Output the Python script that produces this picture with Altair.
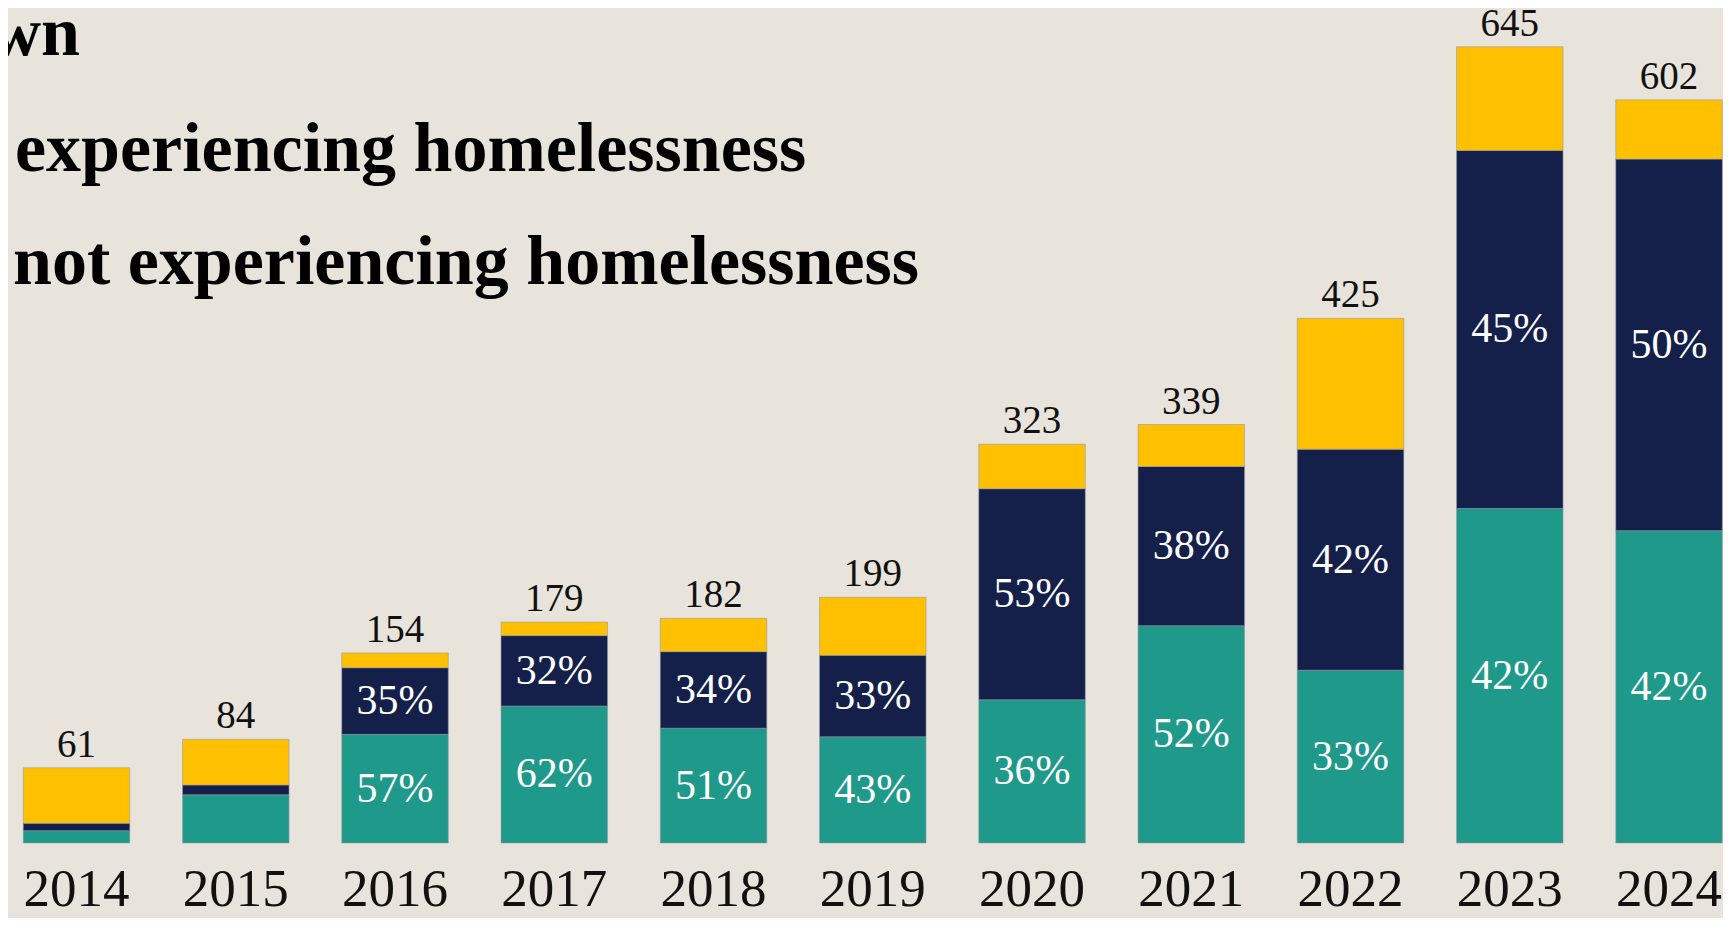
import altair as alt
import pandas as pd

# ---- data ----
years = ["2014", "2015", "2016", "2017", "2018", "2019", "2020", "2021", "2022", "2023", "2024"]
totals = [61, 84, 154, 179, 182, 199, 323, 339, 425, 645, 602]
not_experiencing = [10, 39, 88, 111, 93, 86, 116, 176, 140, 271, 253]
experiencing = [6, 8, 54, 57, 62, 66, 171, 129, 179, 290, 301]
not_exp_pct = [None, None, "57%", "62%", "51%", "43%", "36%", "52%", "33%", "42%", "42%"]
exp_pct = [None, None, "35%", "32%", "34%", "33%", "53%", "38%", "42%", "45%", "50%"]

categories = ["not experiencing homelessness", "experiencing homelessness", "Unknown"]
colors = ["#1F998A", "#14204A", "#FFC000"]
legend_labels = ["Unknown", "experiencing homelessness", "not experiencing homelessness"]

rows = []
for i, yr in enumerate(years):
    unknown = totals[i] - not_experiencing[i] - experiencing[i]
    rows.append({"year": yr, "cat": categories[0], "ord": 0, "value": not_experiencing[i], "pct": not_exp_pct[i]})
    rows.append({"year": yr, "cat": categories[1], "ord": 1, "value": experiencing[i], "pct": exp_pct[i]})
    rows.append({"year": yr, "cat": categories[2], "ord": 2, "value": unknown, "pct": None})
seg = pd.DataFrame(rows)
tot = pd.DataFrame({"year": years, "total": totals})

FONT = "Liberation Serif"
BG = "#E8E4DB"
W, H = 1715, 835
YMAX = 676.4

xscale = alt.Scale(domain=years, paddingInner=0.3312, paddingOuter=0.0502, align=0.956)
yscale = alt.Scale(domain=[0, YMAX], nice=False, zero=True)

xenc = alt.X("year:N", scale=xscale, sort=years,
             axis=alt.Axis(title=None, domain=False, ticks=False, tickSize=0,
                           labelFont=FONT, labelFontSize=53, labelColor="#111111",
                           labelBaseline="alphabetic", labelPadding=62, labelAngle=0))

base = alt.Chart(seg).transform_stack(
    stack="value", groupby=["year"], as_=["y0", "y1"],
    sort=[alt.SortField("ord", order="ascending")]
).transform_calculate(mid="(datum.y0 + datum.y1) / 2")

bars = base.mark_bar(stroke="#8d97a8", strokeWidth=0.8, strokeOpacity=0.7).encode(
    x=xenc,
    y=alt.Y("y0:Q", scale=yscale, axis=None),
    y2="y1:Q",
    color=alt.Color("cat:N", scale=alt.Scale(domain=categories, range=colors), legend=None),
)

pct_text = base.transform_filter("datum.pct != null").mark_text(
    font=FONT, fontSize=42, color="white", baseline="middle", align="center"
).encode(
    x=alt.X("year:N", scale=xscale, sort=years),
    y=alt.Y("mid:Q", scale=yscale),
    text="pct:N",
)

tot_text = alt.Chart(tot).mark_text(
    font=FONT, fontSize=39, color="#111111", baseline="alphabetic", align="center", dy=-11
).encode(
    x=alt.X("year:N", scale=xscale, sort=years),
    y=alt.Y("total:Q", scale=yscale),
    text="total:Q",
)

def legend_line(label, x, y, align):
    return alt.Chart(pd.DataFrame({"t": [label]})).mark_text(
        font=FONT, fontSize=70, fontWeight="bold", color="#000000",
        baseline="alphabetic", align=align
    ).encode(text="t:N", x=alt.value(x), y=alt.value(y))

leg1 = legend_line(legend_labels[0], 72, 47, "right")
leg2 = legend_line(legend_labels[1], 7, 163, "left")
leg3 = legend_line(legend_labels[2], 5, 276, "left")

chart = alt.layer(bars, pct_text, tot_text, leg1, leg2, leg3).properties(
    width=W, height=H,
    autosize=alt.AutoSizeParams(type="none"),
    padding={"left": 0, "top": 0, "right": 0, "bottom": 75},
    background=BG,
).configure_view(stroke=None)

chart.save("out.html", embed_options={"renderer": "svg", "actions": False})
